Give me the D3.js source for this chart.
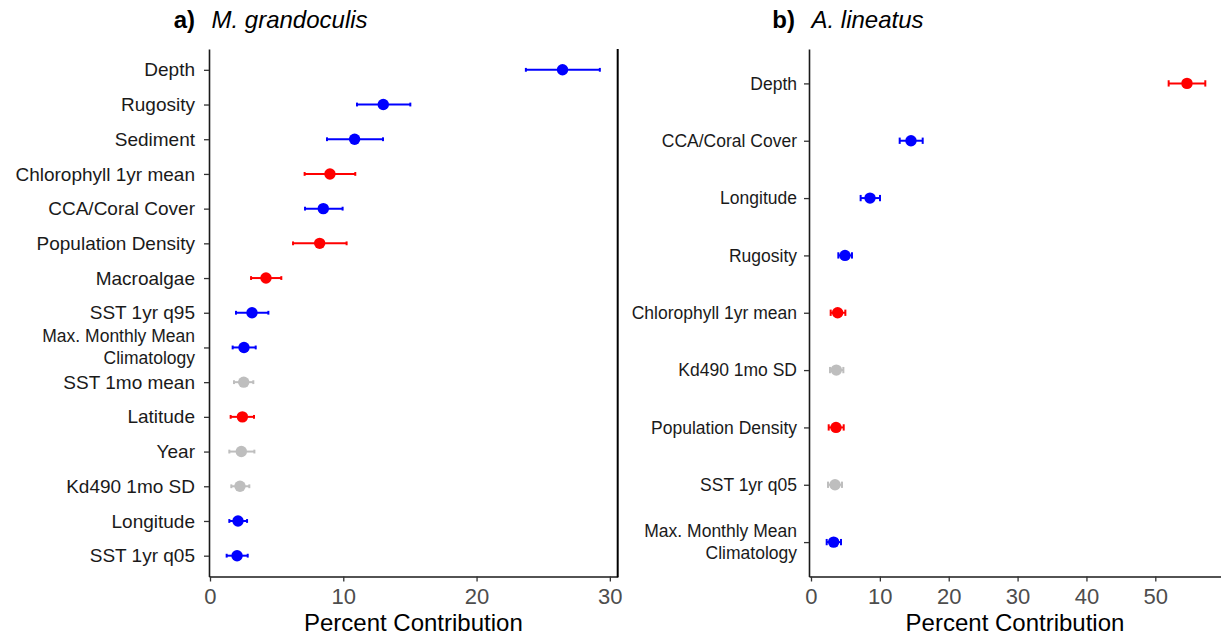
<!DOCTYPE html>
<html><head><meta charset="utf-8">
<script src="https://cdn.jsdelivr.net/npm/d3@7"></script>
<style>body{margin:0;background:#fff;} svg{display:block;font-family:"Liberation Sans",Arial,sans-serif;}</style>
</head><body><svg id="chart" width="1221" height="636"></svg>
<script>
// ---- Panel a) M. grandoculis ----
const catsA = ["Depth","Rugosity","Sediment","Chlorophyll 1yr mean","CCA/Coral Cover","Population Density","Macroalgae","SST 1yr q95","Max. Monthly Mean\nClimatology","SST 1mo mean","Latitude","Year","Kd490 1mo SD","Longitude","SST 1yr q05"];
const meanA = [26.45,13.0,10.85,9.0,8.5,8.23,4.2,3.15,2.55,2.53,2.43,2.35,2.25,2.1,2.03];
const loA   = [23.7,11.03,8.78,7.1,7.13,6.23,3.08,1.95,1.7,1.8,1.55,1.45,1.6,1.45,1.25];
const hiA   = [29.25,15.03,12.98,10.9,9.95,10.25,5.35,4.38,3.43,3.25,3.3,3.33,2.95,2.78,2.83];
const effA  = ["pos","pos","pos","neg","pos","neg","neg","pos","pos","ns","neg","ns","ns","pos","pos"];
const ticksA = [0,10,20,30];

// ---- Panel b) A. lineatus ----
const catsB = ["Depth","CCA/Coral Cover","Longitude","Rugosity","Chlorophyll 1yr mean","Kd490 1mo SD","Population Density","SST 1yr q05","Max. Monthly Mean\nClimatology"];
const meanB = [54.6,14.52,8.57,4.94,3.87,3.68,3.63,3.49,3.29];
const loB   = [51.94,12.88,7.21,3.97,2.86,2.76,2.57,2.47,2.28];
const hiB   = [57.26,16.22,10.02,5.95,4.99,4.7,4.75,4.5,4.36];
const effB  = ["neg","pos","pos","pos","neg","ns","neg","ns","pos"];
const ticksB = [0,10,20,30,40,50];

const colorOf = {pos:"#0000FF", neg:"#FF0000", ns:"#BEBEBE"};
const svg = d3.select("#chart");
svg.append("rect").attr("width",1221).attr("height",636).attr("fill","#fff");

function panel(opts){
  const {cats, mean, lo, hi, eff, ticks, xRange, xDomain, yRange, labelSize, labelPad, tag, species, border} = opts;
  const x = d3.scaleLinear().domain(xDomain).range(xRange);
  const y = d3.scalePoint().domain(cats).range(yRange).padding(0.6);
  const g = svg.append("g");
  const rows = cats.map((c,i)=>({c, m:mean[i], lo:lo[i], hi:hi[i], e:eff[i]}));
  const capH = y.step()*0.055;

  // x axis
  const xa = g.append("g").attr("transform",`translate(0,${yRange[1]})`)
    .call(d3.axisBottom(x).tickValues(ticks).tickSize(5).tickSizeOuter(0).tickPadding(7));
  xa.select(".domain").attr("stroke","#1a1a1a").attr("stroke-width",1.6);
  xa.selectAll(".tick line").attr("stroke","#333").attr("stroke-width",1.3);
  xa.selectAll(".tick text").attr("font-size",22).attr("fill","#4D4D4D").attr("font-family","Liberation Sans, Arial, sans-serif");

  // y axis
  const ya = g.append("g").attr("transform",`translate(${xRange[0]},0)`)
    .call(d3.axisLeft(y).tickSize(5).tickSizeOuter(0).tickPadding(labelPad));
  ya.select(".domain").attr("stroke","#1a1a1a").attr("stroke-width",1.6);
  ya.selectAll(".tick line").attr("stroke","#333").attr("stroke-width",1.3);
  ya.selectAll(".tick text").attr("fill","#1a1a1a").attr("font-family","Liberation Sans, Arial, sans-serif")
    .each(function(d){
      const t = d3.select(this);
      const parts = d.split("\n");
      if(parts.length>1){
        const xx = t.attr("x");
        t.text(null).attr("dy",null).attr("font-size",labelSize.multi);
        parts.forEach((p,k)=>{
          t.append("tspan").attr("x",xx).attr("y", k===0 ? -5.5 : 16).text(p);
        });
      } else {
        t.attr("font-size",labelSize.single);
      }
    });

  if(border){
    g.append("line").attr("x1",xRange[1]).attr("x2",xRange[1])
      .attr("y1",yRange[0]).attr("y2",yRange[1]+0.8)
      .attr("stroke","#000").attr("stroke-width",2);
  }

  // error bars
  const eb = g.append("g").selectAll("g").data(rows).join("g")
    .attr("stroke",d=>colorOf[d.e]).attr("stroke-width",2);
  eb.append("line").attr("x1",d=>x(d.lo)).attr("x2",d=>x(d.hi)).attr("y1",d=>y(d.c)).attr("y2",d=>y(d.c));
  eb.append("line").attr("x1",d=>x(d.lo)).attr("x2",d=>x(d.lo)).attr("y1",d=>y(d.c)-capH).attr("y2",d=>y(d.c)+capH);
  eb.append("line").attr("x1",d=>x(d.hi)).attr("x2",d=>x(d.hi)).attr("y1",d=>y(d.c)-capH).attr("y2",d=>y(d.c)+capH);
  // points
  g.append("g").selectAll("circle").data(rows).join("circle")
    .attr("cx",d=>x(d.m)).attr("cy",d=>y(d.c)).attr("r",5.7).attr("fill",d=>colorOf[d.e]);

  // axis title
  g.append("text").attr("x",(xRange[0]+xRange[1])/2).attr("y",631).attr("text-anchor","middle")
    .attr("font-size",24).attr("fill","#000").text("Percent Contribution");
  // panel title
  g.append("text").attr("x",xRange[0]-14).attr("y",28).attr("text-anchor","end")
    .attr("font-size",24).attr("font-weight","bold").attr("fill","#000").text(tag);
  g.append("text").attr("x",xRange[0]+2.5).attr("y",28).attr("text-anchor","start")
    .attr("font-size",24).attr("font-style","italic").attr("fill","#000").text(species);
}

panel({cats:catsA, mean:meanA, lo:loA, hi:hiA, eff:effA, ticks:ticksA,
  xRange:[209,617.7], xDomain:[-0.075,30.59], yRange:[49,576.5],
  labelSize:{single:19,multi:17.5}, labelPad:9, tag:"a)", species:"M. grandoculis", border:true});
panel({cats:catsB, mean:meanB, lo:loB, hi:hiB, eff:effB, ticks:ticksB,
  xRange:[809,1221], xDomain:[-0.29,59.54], yRange:[49,576.5],
  labelSize:{single:17.5,multi:17.5}, labelPad:7, tag:"b)", species:"A. lineatus", border:false});
</script></body></html>
